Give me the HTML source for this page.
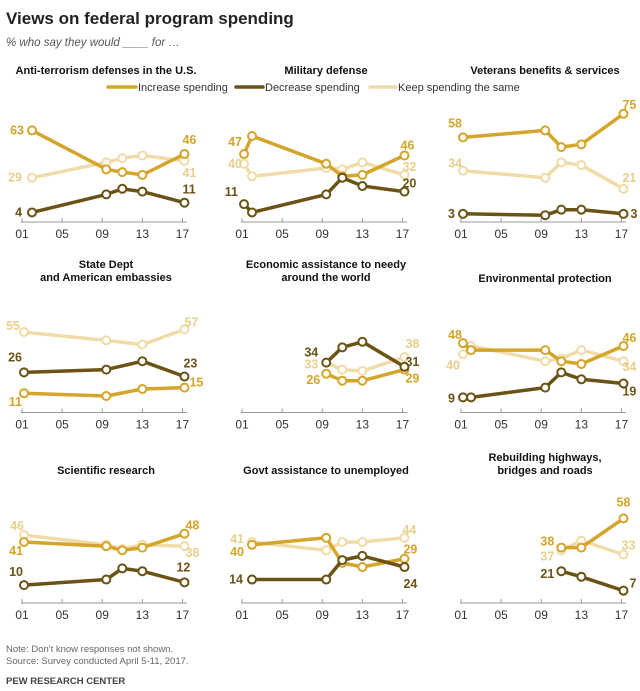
<!DOCTYPE html>
<html><head><meta charset="utf-8"><style>
body{margin:0;background:#fff;}
svg{display:block;font-family:"Liberation Sans",sans-serif;}
</style></head><body>
<svg id="chart" width="640" height="691" viewBox="0 0 640 691">
<text x="6" y="24" font-size="17" font-weight="bold" fill="#222">Views on federal program spending</text>
<text x="6" y="46" font-size="11.5" font-style="italic" fill="#555">% who say they would ____ for …</text>
<g>
<g><line x1="108" y1="87" x2="136" y2="87" stroke="#d4a52b" stroke-width="3.5" stroke-linecap="round"/><text x="138" y="91" font-size="11" fill="#333">Increase spending</text></g>
<g><line x1="236" y1="87" x2="263" y2="87" stroke="#6b5316" stroke-width="3.5" stroke-linecap="round"/><text x="265" y="91" font-size="11" fill="#333">Decrease spending</text></g>
<g><line x1="370" y1="87" x2="396" y2="87" stroke="#f0dca8" stroke-width="3.5" stroke-linecap="round"/><text x="398" y="91" font-size="11" fill="#333">Keep spending the same</text></g>
</g>
<text x="6" y="652" font-size="9.5" fill="#666">Note: Don't know responses not shown.</text>
<text x="6" y="664" font-size="9.5" fill="#666">Source: Survey conducted April 5-11, 2017.</text>
<text x="6" y="684" font-size="9.5" font-weight="bold" fill="#444">PEW RESEARCH CENTER</text>
<g id="panels"></g>
</svg>
<script>
// ---- data ----
const panelTitles = [
 ["Anti-terrorism defenses in the U.S."],["Military defense"],["Veterans benefits & services"],
 ["State Dept","and American embassies"],["Economic assistance to needy","around the world"],["Environmental protection"],
 ["Scientific research"],["Govt assistance to unemployed"],["Rebuilding highways,","bridges and roads"]
];
const panelYears = [
 [2002,2009.4,2011,2013,2017.2],
 [2001.2,2002,2009.4,2011,2013,2017.2],
 [2001.2,2009.4,2011,2013,2017.2],
 [2001.2,2009.4,2013,2017.2],
 [2009.4,2011,2013,2017.2],
 [2001.2,2002,2009.4,2011,2013,2017.2],
 [2001.2,2009.4,2011,2013,2017.2],
 [2002,2009.4,2011,2013,2017.2],
 [2011,2013,2017.2]
];
const increaseValues = [
 [63,35,33,31,46],[46,59,39,30,31,45],[58,63,51,53,75],[11,9,14,15],[25,20,20,28],
 [47,42,42,34,32,45],[41,38,35,37,47],[39,44,26,23,29],[37,37,58]
];
const decreaseValues = [
 [4,17,21,19,11],[10,4,17,29,23,19],[3,2,6,6,3],[26,28,34,23],[33,44,48,30],
 [8,8,15,26,21,18],[10,14,22,20,12],[14,14,28,31,23],[20,16,6]
];
const sameValues = [
 [29,40,43,45,41],[39,30,36,35,40,31],[34,29,40,38,21],[55,49,46,57],[33,28,27,37],
 [39,45,34,36,42,34],[46,39,36,39,38],[41,35,41,41,44],[35,42,32]
];
const startLabels = {
 increase:["63","47","58","11","26","48","41","40","38"],
 decrease:["4","11","3","26","34","9","10","14","21"],
 same:["29","40","34","55","33","40","46","41","37"]
};
const endLabels = {
 increase:["46","46","75","15","29","46","48","29","58"],
 decrease:["11","20","3","23","31","19","12","24","7"],
 same:["41","32","21","57","38","34","38","44","33"]
};
const tickYears = [2001,2005,2009,2013,2017];
const tickLabels = ["01","05","09","13","17"];
// label placement offsets (layout only): [dx,dy] start / end
const startOff = {
 increase:[[-8,4],[-2,-8],[-1,-10],[-2,13],[-6,10],[-1,-4],[-1,13],[-8,11],[-7,-2]],
 decrease:[[-10,4],[-6,-8],[-8,4],[-2,-11],[-8,-6],[-8,5],[-1,-9],[-9,4],[-7,7]],
 same:[[-10,4],[-2,4],[-1,-3],[-4,-2],[-8,6],[-3,15],[0,-5],[-8,1],[-7,10]]
};
const endOff = {
 increase:[[-2,-10],[-4,-6],[-1,-5],[5,-1],[1,13],[-1,-4],[1,-4],[-1,-5],[-7,-12]],
 decrease:[[-2,-9],[-2,-4],[7,4],[-1,-9],[1,-1],[-1,12],[-8,-11],[-1,21],[6,-3]],
 same:[[-2,16],[-2,-4],[-1,-7],[0,-3],[1,-9],[-1,10],[1,11],[-2,-4],[-2,-5]]
};
// ---- drawing ----
const NS="http://www.w3.org/2000/svg";
const colors={increase:"#d4a52b",decrease:"#6b5316",same:"#f0dca8"};
const labelColors={increase:"#d4a52b",decrease:"#6b5316",same:"#e8cf8c"};
const colX0=[22,242,461], rowBase=[218,408.5,599], scaleY=1.39, pxPerYear=10.03;
const root=document.getElementById("panels");
function mk(tag,attrs,parent){const e=document.createElementNS(NS,tag);for(const k in attrs)e.setAttribute(k,attrs[k]);parent.appendChild(e);return e;}
const seriesData={increase:increaseValues,decrease:decreaseValues,same:sameValues};
for(let p=0;p<9;p++){
 const col=p%3,row=Math.floor(p/3),x0=colX0[col],base=rowBase[row];
 const xS=y=>x0+(y-2001)*pxPerYear, yS=v=>base-v*scaleY;
 const g=mk("g",{},root);
 
 
 const tl=panelTitles[p], cx=x0+84;
 const ty0=tl.length===1?(row===0?74:(row===1?282:474)):(row===1?268:461);
 tl.forEach((t,i)=>{const tt=mk("text",{x:cx,y:ty0+i*13,"font-size":"11","font-weight":"bold","text-anchor":"middle",fill:"#111"},g);tt.textContent=t;
  
  });
 const ax=mk("line",{x1:x0-1,y1:base+4,x2:x0+165,y2:base+4,stroke:"#999","stroke-width":"1"},g);
 
 
 tickYears.forEach((ty,i)=>{
  mk("line",{x1:xS(ty),y1:base,x2:xS(ty),y2:base+4,stroke:"#999","stroke-width":"1"},g);
  const t=mk("text",{x:xS(ty),y:base+20,"font-size":"12","text-anchor":"middle",fill:"#333"},g);t.textContent=tickLabels[i];
  
  
 });
 ["same","increase","decrease"].forEach(s=>{
  const vals=seriesData[s][p], yrs=panelYears[p];
  const pts=vals.map((v,i)=>xS(yrs[i]).toFixed(1)+","+yS(v).toFixed(1)).join(" ");
  const pl=mk("polyline",{points:pts,fill:"none",stroke:colors[s],"stroke-width":"3.5","stroke-linejoin":"round"},g);
  
  
  vals.forEach((v,i)=>{const c=mk("circle",{cx:xS(yrs[i]),cy:yS(v),r:"4",fill:"#fff",stroke:colors[s],"stroke-width":"2"},g);
   
   });
  const so=startOff[s][p], eo=endOff[s][p];
  const st=mk("text",{x:xS(yrs[0])+so[0],y:yS(vals[0])+so[1],"font-size":"12.5","font-weight":"bold","text-anchor":"end",fill:labelColors[s]},g);
  st.textContent=startLabels[s][p];
  
  
  const n=vals.length-1;
  const et=mk("text",{x:xS(yrs[n])+eo[0],y:yS(vals[n])+eo[1],"font-size":"12.5","font-weight":"bold","text-anchor":"start",fill:labelColors[s]},g);
  et.textContent=endLabels[s][p];
  
  
 });
}
</script>
</body></html>
